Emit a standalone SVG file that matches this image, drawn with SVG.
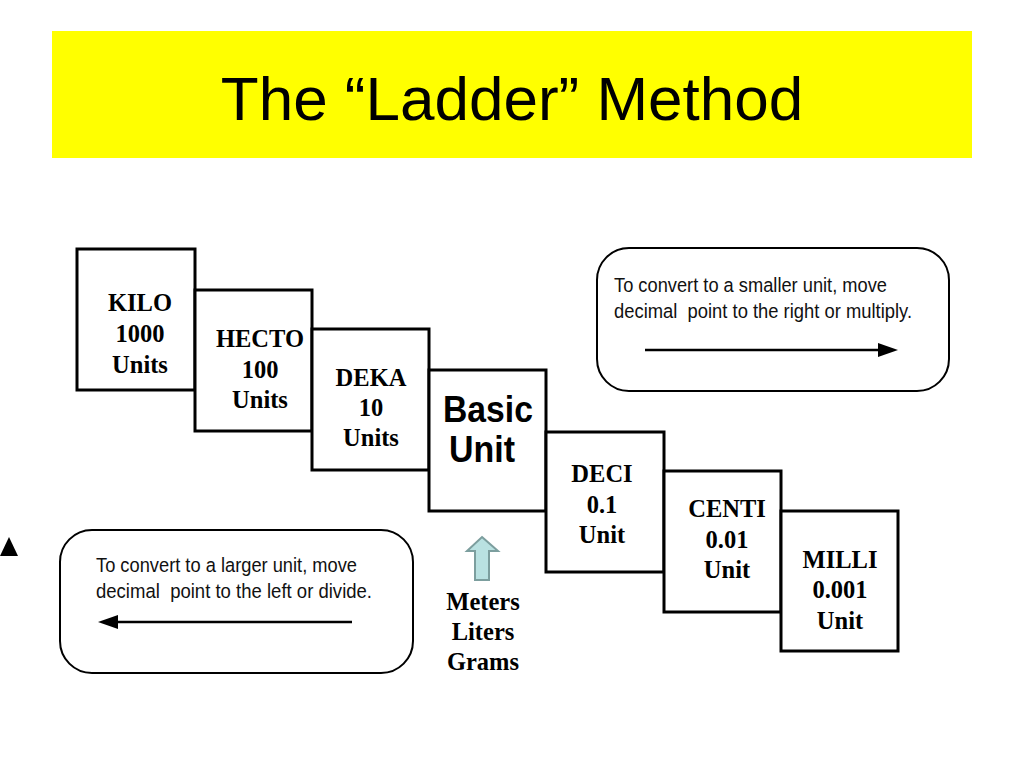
<svg xmlns="http://www.w3.org/2000/svg" width="1024" height="768" viewBox="0 0 1024 768">
<defs>
<style>
.box{fill:#fff;stroke:#000;stroke-width:3}
.lbl{font-family:"Liberation Serif","Times New Roman",serif;font-weight:bold;font-size:24.5px;text-anchor:middle;fill:#000}
.note{fill:#fff;stroke:#000;stroke-width:2}
.nt{font-family:"Liberation Sans",Arial,sans-serif;font-size:20.5px;fill:#111;white-space:pre}
.arr{stroke:#000;stroke-width:2.5;fill:none}
</style>
</defs>
<rect x="0" y="0" width="1024" height="768" fill="#fff"/>
<g id="title">
<rect x="52" y="31" width="920" height="127" fill="#ffff00"/>
<text x="512" y="120" font-family="Liberation Sans,Arial,sans-serif" font-size="62" text-anchor="middle" fill="#000">The “Ladder” Method</text>
</g>
<g id="kilo">
<rect class="box" x="77" y="249" width="118" height="141"/>
<text class="lbl" x="140" y="311">KILO</text>
<text class="lbl" x="140" y="342">1000</text>
<text class="lbl" x="140" y="373">Units</text>
</g>
<g id="hecto">
<rect class="box" x="195" y="290" width="117" height="141"/>
<text class="lbl" x="260" y="347">HECTO</text>
<text class="lbl" x="260" y="378">100</text>
<text class="lbl" x="260" y="408">Units</text>
</g>
<g id="deka">
<rect class="box" x="312" y="329" width="117" height="141"/>
<text class="lbl" x="371" y="386">DEKA</text>
<text class="lbl" x="371" y="416">10</text>
<text class="lbl" x="371" y="446">Units</text>
</g>
<g id="basic">
<rect class="box" x="429" y="370" width="117" height="141"/>
<text x="443" y="422" font-family="Liberation Sans,Arial,sans-serif" font-weight="bold" font-size="37" textLength="90" lengthAdjust="spacingAndGlyphs" fill="#000">Basic</text>
<text x="449" y="462" font-family="Liberation Sans,Arial,sans-serif" font-weight="bold" font-size="37" textLength="66" lengthAdjust="spacingAndGlyphs" fill="#000">Unit</text>
</g>
<g id="deci">
<rect class="box" x="546" y="432" width="118" height="140"/>
<text class="lbl" x="602" y="482">DECI</text>
<text class="lbl" x="602" y="513">0.1</text>
<text class="lbl" x="602" y="543">Unit</text>
</g>
<g id="centi">
<rect class="box" x="664" y="471" width="117" height="141"/>
<text class="lbl" x="727" y="517">CENTI</text>
<text class="lbl" x="727" y="548">0.01</text>
<text class="lbl" x="727" y="578">Unit</text>
</g>
<g id="milli">
<rect class="box" x="781" y="511" width="117" height="140"/>
<text class="lbl" x="840" y="568">MILLI</text>
<text class="lbl" x="840" y="598">0.001</text>
<text class="lbl" x="840" y="629">Unit</text>
</g>
<g id="note-smaller">
<rect class="note" x="597" y="248" width="352" height="143" rx="32" ry="32"/>
<text class="nt" x="614" y="292" textLength="273" lengthAdjust="spacingAndGlyphs">To convert to a smaller unit, move</text>
<text class="nt" x="614" y="318" textLength="298" lengthAdjust="spacingAndGlyphs">decimal  point to the right or multiply.</text>
</g>
<g id="note-larger">
<rect class="note" x="60" y="530" width="353" height="143" rx="32" ry="32"/>
<text class="nt" x="96" y="572" textLength="261" lengthAdjust="spacingAndGlyphs">To convert to a larger unit, move</text>
<text class="nt" x="96" y="598" textLength="276" lengthAdjust="spacingAndGlyphs">decimal  point to the left or divide.</text>
</g>
<g id="basic-units">
<polygon points="482,537 498,551 489,551 489,580 475,580 475,551 467,551" fill="#b9e1e1" stroke="#7c9e9e" stroke-width="2"/>
<text class="lbl" x="483" y="610">Meters</text>
<text class="lbl" x="483" y="640">Liters</text>
<text class="lbl" x="483" y="670">Grams</text>
</g>
<g id="connectors">
<line class="arr" x1="645" y1="350" x2="880" y2="350"/>
<polygon points="898,350 878,343 878,357" fill="#000"/>
<line class="arr" x1="352" y1="622" x2="116" y2="622"/>
<polygon points="98,622 118,615 118,629" fill="#000"/>
</g>
<polygon points="9,537 18,556 0,556" fill="#000"/>
</svg>
